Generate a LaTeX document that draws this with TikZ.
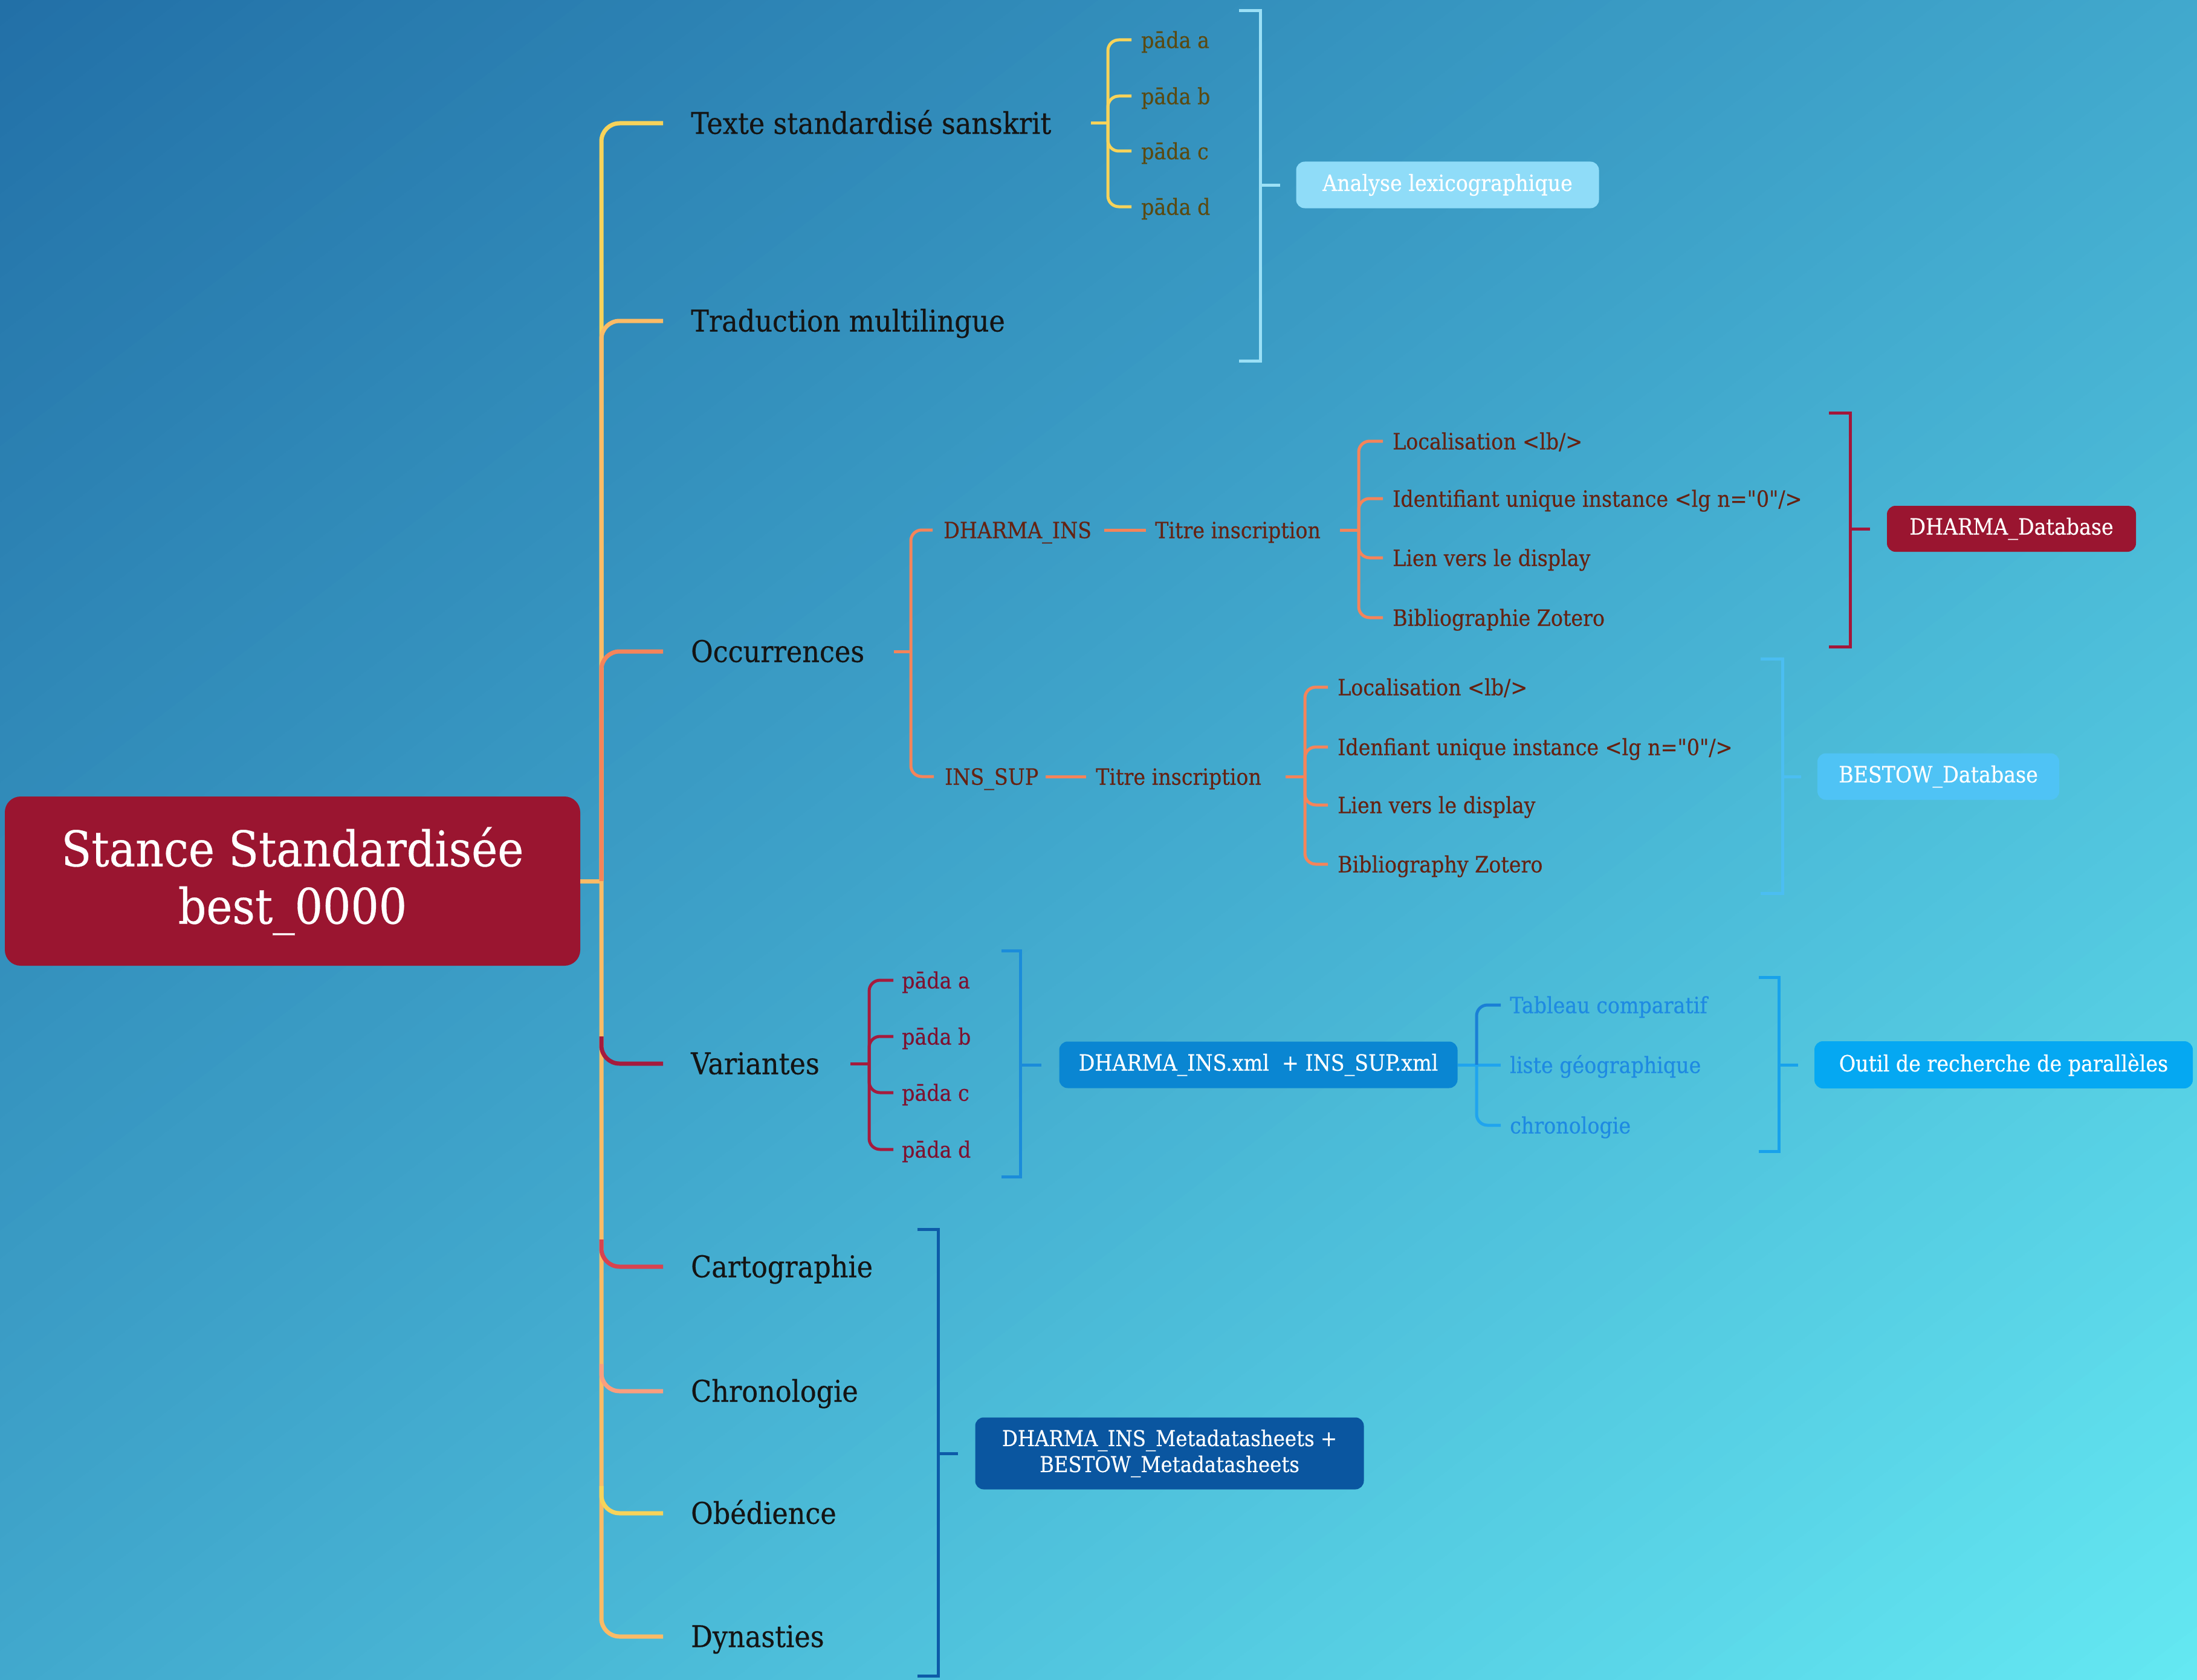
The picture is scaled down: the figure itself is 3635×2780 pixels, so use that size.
\documentclass[tikz,border=0pt]{standalone}
\usepackage{fontspec}
\setmainfont{DejaVu Serif}[FakeStretch=0.9, FakeBold=0.4]
\newfontfamily\dqfont{DejaVu Serif}[FakeStretch=0.9, FakeBold=0.4]
\definecolor{bgA}{HTML}{2270A7}
\definecolor{bgB}{HTML}{41A8CD}
\definecolor{bgC}{HTML}{64E8F2}
\definecolor{cYel}{HTML}{F7D35A}
\definecolor{cLor}{HTML}{FBBB66}
\definecolor{cCor}{HTML}{F5845A}
\definecolor{cCrim}{HTML}{A51B3D}
\definecolor{cRed}{HTML}{D8434F}
\definecolor{cSal}{HTML}{F99E7E}
\definecolor{tOlive}{HTML}{5A4A12}
\definecolor{tBrown}{HTML}{652212}
\definecolor{tCrim}{HTML}{7E1230}
\definecolor{tBlue}{HTML}{1E8AE2}
\definecolor{lBlueA}{HTML}{1A7FD6}
\definecolor{lBlueB}{HTML}{20A4EE}
\definecolor{rootF}{HTML}{9A1530}
\definecolor{anaF}{HTML}{8FDCF8}
\definecolor{anaL}{HTML}{9BE0F6}
\definecolor{besF}{HTML}{4FC3F5}
\definecolor{besL}{HTML}{4BBEF2}
\definecolor{xmlF}{HTML}{0A86D2}
\definecolor{xmlL}{HTML}{1B8CDA}
\definecolor{outF}{HTML}{05A8F2}
\definecolor{outL}{HTML}{18A2EB}
\definecolor{metF}{HTML}{0A56A0}
\definecolor{metL}{HTML}{0D5BA8}
\definecolor{dbL}{HTML}{A3173A}
\newcommand{\myDQ}{{\dqfont\symbol{34}}}
\tikzset{
  mainlbl/.style={anchor=west, inner sep=0pt, text height=35pt, text depth=0pt,
    font=\fontsize{49.5}{59}\selectfont, text=black!92},
  sublbl/.style={anchor=west, inner sep=0pt, text height=27pt, text depth=0pt,
    font=\fontsize{37}{44}\selectfont},
  dbbox/.style={rounded corners=14pt, inner sep=0pt, text=white,
    font=\fontsize{37}{44}\selectfont, align=center},
  brc/.style={line width=5pt, rounded corners=18pt},
  bkt/.style={line width=5pt},
  trk/.style={line width=7pt, rounded corners=30pt},
}
\begin{document}
\begin{tikzpicture}[x=1pt,y=-1pt]
\useasboundingbox (0,0) rectangle (3635,2780);
% diagonal background gradient, drawn as thin bands
\begin{scope}
\clip (0,0) rectangle (3635,2780);
\foreach \i in {0,...,119}{
  \pgfmathsetmacro{\ta}{-2210+\i*36.84}
  \pgfmathsetmacro{\tb}{\ta+39}
  \pgfmathsetmacro{\ff}{(\i+0.5)/120}
  \ifdim\ff pt<0.5pt
    \pgfmathsetmacro{\pc}{200*\ff}\colorlet{bandc}{bgB!\pc!bgA}
  \else
    \pgfmathsetmacro{\pc}{200*\ff-100}\colorlet{bandc}{bgC!\pc!bgB}
  \fi
  \fill[bandc] ({1817.5+\ta*0.607+3000*0.795},{1390+\ta*0.795-3000*0.607})
    -- ({1817.5+\ta*0.607-3000*0.795},{1390+\ta*0.795+3000*0.607})
    -- ({1817.5+\tb*0.607-3000*0.795},{1390+\tb*0.795+3000*0.607})
    -- ({1817.5+\tb*0.607+3000*0.795},{1390+\tb*0.795-3000*0.607}) -- cycle;
}
\end{scope}

% root
\node[dbbox, fill=rootF, minimum width=952pt, minimum height=280pt, rounded corners=26pt,
  font=\fontsize{81}{95}\selectfont] (root) at (484,1458) {Stance Standardisée\\best\_0000};

% main labels
\node[mainlbl] (texte) at (1143,204) {Texte standardisé sanskrit};
\node[mainlbl] (trad) at (1143,531) {Traduction multilingue};
\node[mainlbl] (occ) at (1143,1078) {Occurrences};
\node[mainlbl] (var) at (1143,1760) {Variantes};
\node[mainlbl] (carto) at (1143,2096) {Cartographie};
\node[mainlbl] (chrono) at (1143,2302) {Chronologie};
\node[mainlbl] (obed) at (1143,2504) {Obédience};
\node[mainlbl] (dyn) at (1143,2708) {Dynasties};

% trunk
\coordinate (rj) at (995,1458);
\draw[trk, cLor] (root.east) -- (rj);
\draw[trk, cYel] (rj) |- ([xshift=-46pt]texte.west);
\draw[trk, cLor] (rj) |- ([xshift=-46pt]trad.west);
\draw[trk, cCor] (rj) |- ([xshift=-46pt]occ.west);
\draw[trk, cLor] (rj) |- ([xshift=-46pt]dyn.west);
\draw[trk, cYel] ([xshift=-148pt,yshift=45pt]obed.west) |- ([xshift=-46pt]obed.west);
\draw[trk, cSal] ([xshift=-148pt,yshift=45pt]chrono.west) |- ([xshift=-46pt]chrono.west);
\draw[trk, cRed] ([xshift=-148pt,yshift=45pt]carto.west) |- ([xshift=-46pt]carto.west);
\draw[trk, cCrim] ([xshift=-148pt,yshift=45pt]var.west) |- ([xshift=-46pt]var.west);

% Texte -> padas
\node[sublbl, text=tOlive] (pa1) at (1888,66) {pāda a};
\node[sublbl, text=tOlive] (pa2) at (1888,159) {pāda b};
\node[sublbl, text=tOlive] (pa3) at (1888,250) {pāda c};
\node[sublbl, text=tOlive] (pa4) at (1888,342) {pāda d};
\coordinate (ts) at (1805,204);
\coordinate (tj) at (1833,204);
\draw[brc, cYel] (ts) -- (tj);
\foreach \n in {pa1,pa2,pa3,pa4}{\draw[brc, cYel] (tj) |- ([xshift=-16pt]\n.west);}

% Analyse bracket
\node[dbbox, fill=anaF, minimum width=501pt, minimum height=77pt] (ana) at (2395,306) {Analyse lexicographique};
\coordinate (bA) at (2085,307);
\draw[bkt, anaL] (2050,18) -- (2085,18) -- (2085,597) -- (2050,597);
\draw[bkt, anaL, shorten >=26pt] (bA) -- (bA -| ana.west);

% Occurrences
\node[sublbl, text=tBrown] (dins) at (1561,877) {DHARMA\_INS};
\node[sublbl, text=tBrown] (insup) at (1563,1285) {INS\_SUP};
\coordinate (os) at (1479,1078);
\coordinate (oj) at (1507,1078);
\draw[brc, cCor] (os) -- (oj);
\draw[brc, cCor] (oj) |- ([xshift=-18pt]dins.west);
\draw[brc, cCor] (oj) |- ([xshift=-18pt]insup.west);

\node[sublbl, text=tBrown] (tit1) at (1911,877) {Titre inscription};
\draw[brc, cCor] ([xshift=-84pt]tit1.west) -- ([xshift=-15pt]tit1.west);
\node[sublbl, text=tBrown] (d1) at (2304,730) {Localisation <lb/>};
\node[sublbl, text=tBrown] (d2) at (2304,825) {Identifiant unique instance <lg n=\myDQ 0\myDQ/>};
\node[sublbl, text=tBrown] (d3) at (2304,923) {Lien vers le display};
\node[sublbl, text=tBrown] (d4) at (2304,1022) {Bibliographie Zotero};
\coordinate (t1s) at (2217,877);
\coordinate (t1j) at (2248,877);
\draw[brc, cCor] (t1s) -- (t1j);
\foreach \n in {d1,d2,d3,d4}{\draw[brc, cCor] (t1j) |- ([xshift=-16pt]\n.west);}

\node[sublbl, text=tBrown] (tit2) at (1813,1285) {Titre inscription};
\draw[brc, cCor] ([xshift=-83pt]tit2.west) -- ([xshift=-16pt]tit2.west);
\node[sublbl, text=tBrown] (s1) at (2213,1137) {Localisation <lb/>};
\node[sublbl, text=tBrown] (s2) at (2213,1236) {Idenfiant unique instance <lg n=\myDQ 0\myDQ/>};
\node[sublbl, text=tBrown] (s3) at (2213,1332) {Lien vers le display};
\node[sublbl, text=tBrown] (s4) at (2213,1430) {Bibliography Zotero};
\coordinate (t2s) at (2127,1285);
\coordinate (t2j) at (2159,1285);
\draw[brc, cCor] (t2s) -- (t2j);
\foreach \n in {s1,s2,s3,s4}{\draw[brc, cCor] (t2j) |- ([xshift=-16pt]\n.west);}

% DHARMA_Database
\node[dbbox, fill=rootF, minimum width=412pt, minimum height=76pt] (db) at (3328,875) {DHARMA\_Database};
\coordinate (bD) at (3061,875);
\draw[bkt, dbL] (3026,683) -- (3061,683) -- (3061,1070) -- (3026,1070);
\draw[bkt, dbL, shorten >=28pt] (bD) -- (bD -| db.west);

% BESTOW_Database
\node[dbbox, fill=besF, minimum width=400pt, minimum height=77pt] (bes) at (3207,1285) {BESTOW\_Database};
\coordinate (bB) at (2949,1285);
\draw[bkt, besL] (2913,1090) -- (2949,1090) -- (2949,1478) -- (2913,1478);
\draw[bkt, besL, shorten >=27pt] (bB) -- (bB -| bes.west);

% Variantes
\node[sublbl, text=tCrim] (v1) at (1492,1622) {pāda a};
\node[sublbl, text=tCrim] (v2) at (1492,1715) {pāda b};
\node[sublbl, text=tCrim] (v3) at (1492,1808) {pāda c};
\node[sublbl, text=tCrim] (v4) at (1492,1902) {pāda d};
\coordinate (vs) at (1407,1760);
\coordinate (vj) at (1438,1760);
\draw[brc, cCrim] (vs) -- (vj);
\foreach \n in {v1,v2,v3,v4}{\draw[brc, cCrim] (vj) |- ([xshift=-14pt]\n.west);}

\node[dbbox, fill=xmlF, minimum width=659pt, minimum height=77pt] (xml) at (2082,1762) {DHARMA\_INS.xml\ \ + INS\_SUP.xml};
\coordinate (bX) at (1688,1762);
\draw[bkt, xmlL] (1657,1573) -- (1688,1573) -- (1688,1947) -- (1657,1947);
\draw[bkt, xmlL, shorten >=29pt] (bX) -- (bX -| xml.west);

\node[sublbl, text=tBlue] (b1) at (2498,1663) {Tableau comparatif};
\node[sublbl, text=tBlue] (b2) at (2498,1762) {liste géographique};
\node[sublbl, text=tBlue] (b3) at (2498,1862) {chronologie};
\coordinate (xj) at (2443,1762);
\draw[brc, lBlueB] (xml.east) -- ([xshift=-15pt]b2.west);
\draw[brc, lBlueA] (xj) |- ([xshift=-15pt]b1.west);
\draw[brc, lBlueB] (xj) |- ([xshift=-15pt]b3.west);

% Outil
\node[dbbox, fill=outF, minimum width=626pt, minimum height=78pt] (outil) at (3315,1762) {Outil de recherche de parallèles};
\coordinate (bO) at (2943,1762);
\draw[bkt, outL] (2910,1617) -- (2943,1617) -- (2943,1905) -- (2910,1905);
\draw[bkt, outL, shorten >=27pt] (bO) -- (bO -| outil.west);

% Metadata
\node[dbbox, fill=metF, minimum width=643pt, minimum height=119pt,
  font=\fontsize{36}{43}\selectfont] (meta) at (1935,2405) {DHARMA\_INS\_Metadatasheets +\\BESTOW\_Metadatasheets};
\coordinate (bM) at (1552,2405);
\draw[bkt, metL] (1518,2034) -- (1552,2034) -- (1552,2773) -- (1518,2773);
\draw[bkt, metL, shorten >=28pt] (bM) -- (bM -| meta.west);
\end{tikzpicture}
\end{document}
